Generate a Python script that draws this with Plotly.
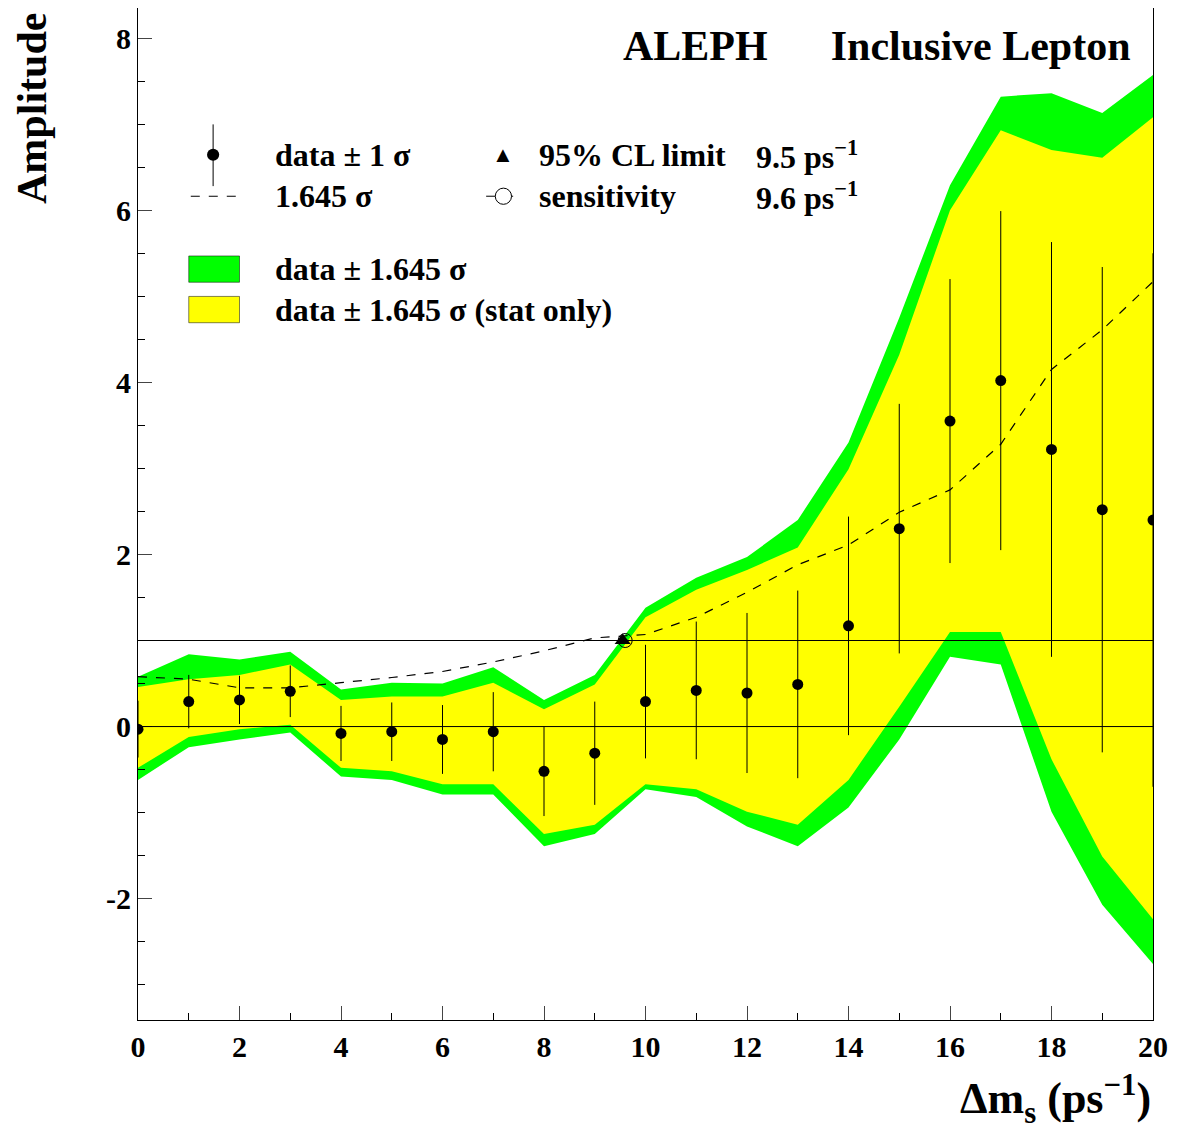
import plotly.graph_objects as go

# Datos
dm = list(range(21))
amp = [-0.03, 0.29, 0.31, 0.41, -0.08, -0.06, -0.15, -0.06, -0.52, -0.31, 0.29,
       0.42, 0.39, 0.49, 1.17, 2.30, 3.55, 4.02, 3.22, 2.52, 2.40]
sigma = [0.33, 0.31, 0.28, 0.30, 0.32, 0.34, 0.40, 0.46, 0.52, 0.60, 0.66,
         0.80, 0.93, 1.09, 1.27, 1.45, 1.65, 1.97, 2.41, 2.82, 3.10]
sig1645 = [0.58, 0.55, 0.45, 0.45, 0.51, 0.57, 0.64, 0.75, 0.88, 1.03, 1.07,
           1.27, 1.56, 1.88, 2.11, 2.49, 2.75, 3.28, 4.15, 4.61, 5.17]
green_up = [0.58, 0.84, 0.78, 0.87, 0.43, 0.51, 0.50, 0.69, 0.31, 0.60, 1.38,
            1.73, 1.97, 2.40, 3.30, 4.75, 6.29, 7.32, 7.36, 7.13, 7.57]
green_lo = [-0.62, -0.24, -0.15, -0.07, -0.58, -0.62, -0.79, -0.79, -1.39, -1.25, -0.73,
            -0.82, -1.16, -1.39, -0.94, -0.15, 0.81, 0.72, -0.99, -2.07, -2.76]
yellow_up = [0.46, 0.55, 0.60, 0.72, 0.31, 0.35, 0.35, 0.51, 0.20, 0.49, 1.27,
             1.59, 1.82, 2.08, 2.99, 4.32, 6.00, 6.93, 6.70, 6.61, 7.08]
yellow_lo = [-0.48, -0.12, -0.03, 0.02, -0.48, -0.52, -0.67, -0.67, -1.25, -1.14, -0.67,
             -0.73, -0.99, -1.14, -0.62, 0.23, 1.10, 1.10, -0.38, -1.51, -2.24]
limite = 9.55
sensib = 9.6

GREEN = "#00ff00"
YELLOW = "#ffff00"
FONT = "Liberation Serif"

fig = go.Figure()
fig.add_trace(go.Scatter(x=dm + dm[::-1], y=green_up + green_lo[::-1], fill="toself",
                         fillcolor=GREEN, line=dict(width=0), mode="lines"))
fig.add_trace(go.Scatter(x=dm + dm[::-1], y=yellow_up + yellow_lo[::-1], fill="toself",
                         fillcolor=YELLOW, line=dict(width=0), mode="lines"))
fig.add_trace(go.Scatter(x=dm, y=sig1645, mode="lines",
                         line=dict(color="black", width=1.2, dash="dash")))
fig.add_trace(go.Scatter(x=dm, y=amp, mode="markers",
                         marker=dict(color="black", size=11),
                         error_y=dict(type="data", array=sigma, width=0, color="black", thickness=1)))
fig.add_trace(go.Scatter(x=[limite], y=[1], mode="markers",
                         marker=dict(symbol="triangle-up", color="black", size=14)))
fig.add_trace(go.Scatter(x=[sensib], y=[1], mode="markers",
                         marker=dict(symbol="circle-open", color="black", size=14, line=dict(width=1))))

for yv in [0, 1]:
    fig.add_shape(type="line", xref="x", yref="y", x0=0, x1=20, y0=yv, y1=yv,
                  line=dict(color="black", width=1))

# Leyenda manual
def txt(x, y, s, size=32, anchor="left"):
    fig.add_annotation(xref="paper", yref="paper", x=x, y=y, text=s, showarrow=False,
                       xanchor=anchor, yanchor="middle", font=dict(family=FONT, size=size, color="black"))

txt(0.133, 0.855, "<b>data ± 1 σ</b>")
txt(0.133, 0.814, "<b>1.645 σ</b>")
txt(0.393, 0.855, "<b>95% CL limit</b>")
txt(0.393, 0.814, "<b>sensitivity</b>")
txt(0.607, 0.855, "<b>9.5 ps<sup>−1</sup></b>")
txt(0.607, 0.814, "<b>9.6 ps<sup>−1</sup></b>")
txt(0.133, 0.742, "<b>data ± 1.645 σ</b>")
txt(0.133, 0.702, "<b>data ± 1.645 σ (stat only)</b>")
txt(0.98, 0.962, "<b>ALEPH      Inclusive Lepton</b>", size=42, anchor="right")
txt(0.36, 0.855, "▲", size=22, anchor="center")

# símbolos de la leyenda
fig.add_shape(type="line", xref="paper", yref="paper", x0=0.074, x1=0.074, y0=0.824, y1=0.885,
              line=dict(color="black", width=1))
fig.add_shape(type="circle", xref="paper", yref="paper", x0=0.068, x1=0.080, y0=0.849, y1=0.861,
              fillcolor="black", line=dict(color="black", width=0))
fig.add_shape(type="line", xref="paper", yref="paper", x0=0.052, x1=0.1, y0=0.814, y1=0.814,
              line=dict(color="black", width=1.2, dash="dash"))
fig.add_shape(type="line", xref="paper", yref="paper", x0=0.343, x1=0.378, y0=0.814, y1=0.814,
              line=dict(color="black", width=1, dash="dash"))
fig.add_shape(type="circle", xref="paper", yref="paper", x0=0.352, x1=0.368, y0=0.806, y1=0.822,
              fillcolor="white", line=dict(color="black", width=1))
fig.add_shape(type="rect", xref="paper", yref="paper", x0=0.05, x1=0.1, y0=0.729, y1=0.755,
              fillcolor=GREEN, line=dict(color="black", width=0.5))
fig.add_shape(type="rect", xref="paper", yref="paper", x0=0.05, x1=0.1, y0=0.689, y1=0.715,
              fillcolor=YELLOW, line=dict(color="black", width=0.5))

fig.add_annotation(xref="paper", yref="paper", x=1.0, y=-0.078, text="<b>Δm<sub>s</sub> (ps<sup>−1</sup>)</b>",
                   showarrow=False, xanchor="right", yanchor="middle",
                   font=dict(family=FONT, size=44, color="black"))
fig.add_annotation(xref="paper", yref="paper", x=-0.105, y=0.997, text="<b>Amplitude</b>", textangle=-90,
                   showarrow=False, xanchor="center", yanchor="top",
                   font=dict(family=FONT, size=42, color="black"))

tf = dict(family=FONT, size=30, color="black", weight="bold")
fig.update_xaxes(range=[0, 20], tickvals=list(range(0, 21, 2)), ticks="inside", ticklen=14,
                 minor=dict(ticks="inside", dtick=1, ticklen=7, tickcolor="black"),
                 showgrid=False, zeroline=False, showline=True, linecolor="black", mirror=True,
                 tickfont=tf)
fig.update_yaxes(range=[-3.41, 8.35], tickvals=[-2, 0, 2, 4, 6, 8], ticktext=["-2", "0", "2", "4", "6", "8"],
                 ticks="inside", ticklen=14,
                 minor=dict(ticks="inside", dtick=0.5, ticklen=7, tickcolor="black"),
                 showgrid=False, zeroline=False, showline=True, linecolor="black", mirror=True,
                 tickfont=tf)
fig.update_layout(width=1177, height=1139, showlegend=False, plot_bgcolor="white",
                  paper_bgcolor="white", margin=dict(l=130, r=32, t=0, b=127))
fig.write_html("out.html")
